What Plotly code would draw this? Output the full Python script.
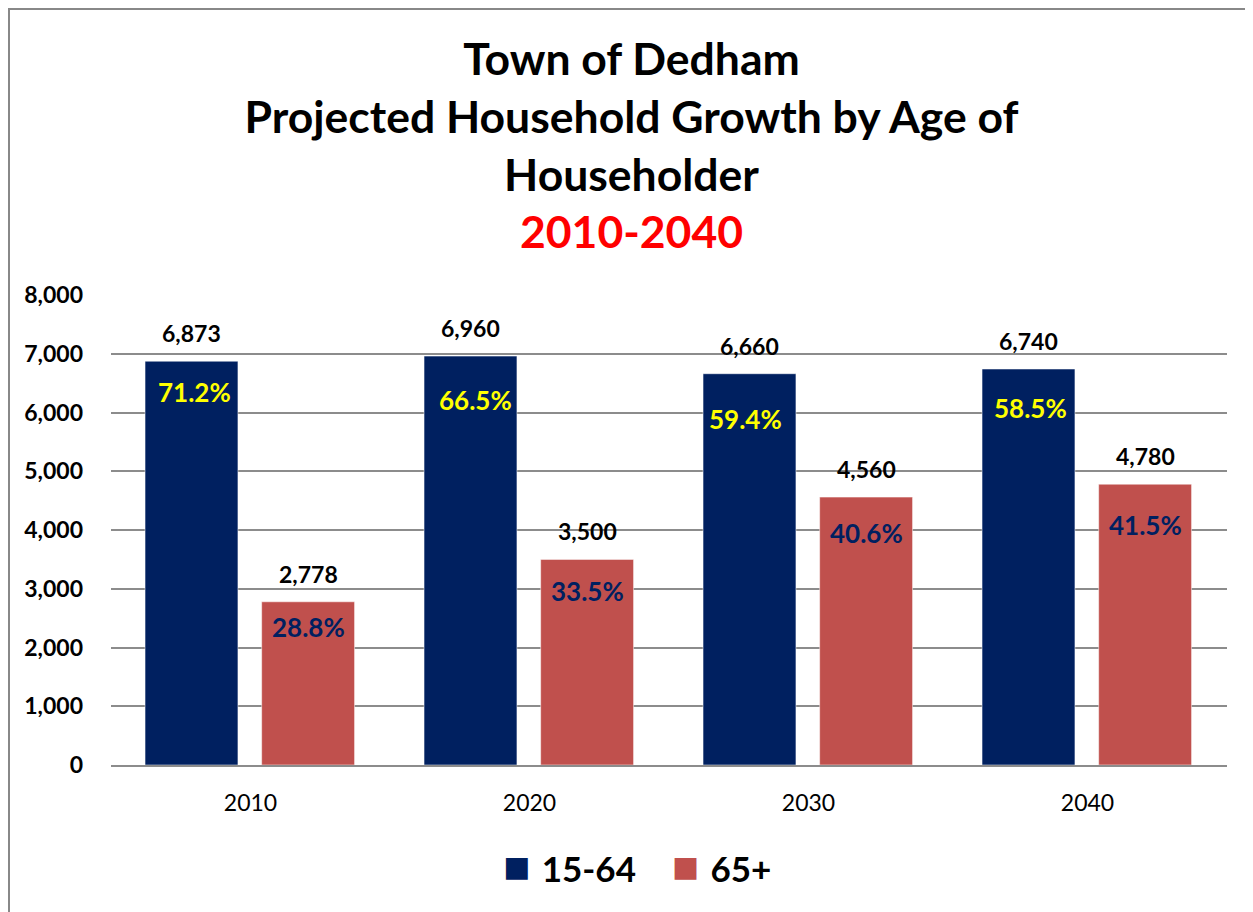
import plotly.graph_objects as go

years = ["2010", "2020", "2030", "2040"]
series_names = ["15-64", "65+"]
hh_15_64 = [6873, 6960, 6660, 6740]
hh_65_plus = [2778, 3500, 4560, 4780]
pct_15_64 = ["71.2%", "66.5%", "59.4%", "58.5%"]
pct_65_plus = ["28.8%", "33.5%", "40.6%", "41.5%"]
y_ticks = [0, 1000, 2000, 3000, 4000, 5000, 6000, 7000, 8000]

# style settings
FONT = "Lato"
colors = ["#002060", "#C0504D"]
pct_colors = ["#FFFF00", "#002060"]
bar_width = 0.333
offsets = [-0.378, 0.040]
pct_shift = [[-31, -44, -45, -39], [-25, -32, -36, -41]]
pct_xshift = [[3, 5, -4, 2], [0, 0, 0, 0]]

values = [hh_15_64, hh_65_plus]
pcts = [pct_15_64, pct_65_plus]
xs = list(range(len(years)))

fig = go.Figure()
annotations = []
for s in range(2):
    fig.add_trace(go.Bar(
        x=xs, y=values[s], name=series_names[s],
        width=bar_width, offset=offsets[s],
        marker=dict(color=colors[s], line=dict(color="rgba(255,255,255,0.5)", width=1)),
        showlegend=False, hoverinfo="x+y",
    ))
    cx = offsets[s] + bar_width / 2
    for i, v in enumerate(values[s]):
        annotations.append(dict(
            x=xs[i] + cx, y=v, xref="x", yref="y", text=f"<b>{v:,}</b>",
            showarrow=False, yshift=28, font=dict(family=FONT, size=23, color="black"),
        ))
        annotations.append(dict(
            x=xs[i] + cx, y=v, xref="x", yref="y", text=f"<b>{pcts[s][i]}</b>",
            showarrow=False, yshift=pct_shift[s][i], xshift=pct_xshift[s][i],
            font=dict(family=FONT, size=26, color=pct_colors[s]),
        ))

# legend (drawn as text to match the large square swatches)
legend_parts = []
for s in range(2):
    legend_parts.append(
        f"<span style='color:{colors[s]};font-size:45px'>■ </span><b>{series_names[s]}</b>"
    )
annotations.append(dict(
    x=0.4713, y=-0.2128, xref="paper", yref="paper", showarrow=False,
    text="    ".join(legend_parts), font=dict(family=FONT, size=35, color="black"),
    xanchor="center", yanchor="middle",
))

fig.update_layout(
    width=1245, height=904,
    margin=dict(l=103, r=26, t=287, b=147),
    paper_bgcolor="white", plot_bgcolor="white",
    bargap=0.25,
    title=dict(
        text="<b>Town of Dedham<br>Projected Household Growth by Age of<br>Householder<br>"
             "<span style='color:#FF0000'>2010-2040</span></b>",
        x=0.5008, xanchor="center", y=0.926, yanchor="top",
        font=dict(family=FONT, size=44.5, color="black"),
    ),
    annotations=annotations,
    shapes=[dict(type="rect", xref="paper", yref="paper",
                 x0=-0.0914, y0=-0.6, x1=1.2, y1=1.6085,
                 line=dict(color="#888888", width=2), layer="below")],
    xaxis=dict(
        tickmode="array", tickvals=xs, ticktext=years, range=[-0.5, 3.5],
        showgrid=False, showline=True, linecolor="#8c8c8c", linewidth=2,
        ticks="", tickfont=dict(family=FONT, size=23, color="black"),
        zeroline=False, ticklabelstandoff=16,
    ),
    yaxis=dict(
        range=[0, 8000], tickvals=y_ticks, tickformat=",d",
        showgrid=True, gridcolor="#8c8c8c", gridwidth=2,
        zeroline=False, showline=False, ticks="",
        tickfont=dict(family=FONT, size=23, color="black", weight="bold"),
        ticklabelstandoff=27,
    ),
)

fig.write_html("out.html")
